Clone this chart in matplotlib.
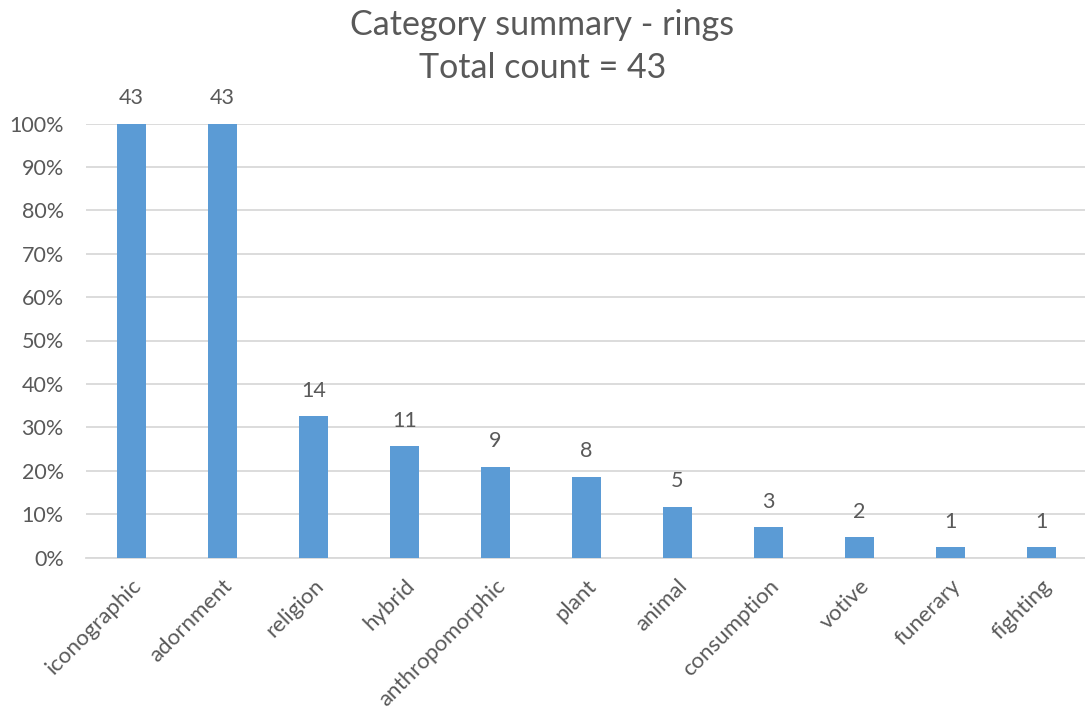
import matplotlib
matplotlib.use("Agg")
import matplotlib.pyplot as plt
from matplotlib.ticker import PercentFormatter

categories = ["iconographic", "adornment", "religion", "hybrid", "anthropomorphic",
              "plant", "animal", "consumption", "votive", "funerary", "fighting"]
counts = [43, 43, 14, 11, 9, 8, 5, 3, 2, 1, 1]
total = 43
shares = [c / total for c in counts]

text_color = "#595959"
grid_color = "#D9D9D9"
bar_color = "#5B9BD5"

plt.rcParams["font.family"] = ["Lato", "DejaVu Sans"]

fig = plt.figure(figsize=(10.85, 7.13), dpi=100)
ax = fig.add_axes([86 / 1085, 1 - 557.5 / 713, 1001 / 1085, 434 / 713])

x = list(range(len(categories)))
bars = ax.bar(x, shares, width=0.31, color=bar_color, zorder=3)

for xi, s, c in zip(x, shares, counts):
    ax.annotate(str(c), (xi, s), xytext=(0, 18.5), textcoords="offset points",
                ha="center", va="center", fontsize=15.5, color=text_color)

ax.set_xlim(-0.5, len(categories) - 0.5)
ax.set_ylim(0, 1.0)
ax.set_yticks([i / 10 for i in range(11)])
ax.yaxis.set_major_formatter(PercentFormatter(1.0, decimals=0))
ax.grid(axis="y", color=grid_color, linewidth=1.3, zorder=0)
ax.set_axisbelow(True)
for sp in ax.spines.values():
    sp.set_visible(False)
ax.tick_params(axis="both", length=0, colors=text_color)
ax.tick_params(axis="y", pad=16, labelsize=15.5)
ax.set_xticks(x)
ax.set_xticklabels(categories, rotation=45, ha="right", rotation_mode="anchor")
ax.tick_params(axis="x", pad=13, labelsize=16)
ax.axhline(0, color=grid_color, linewidth=1.3, zorder=1, clip_on=False)

fig.text(0.5, 1 - 25 / 713, "Category summary - rings", ha="center", va="center",
         fontsize=24.5, color=text_color)
fig.text(0.5, 1 - 68 / 713, "Total count = 43", ha="center", va="center",
         fontsize=24.5, color=text_color)

fig.savefig("out.png", dpi=100, facecolor="white")
